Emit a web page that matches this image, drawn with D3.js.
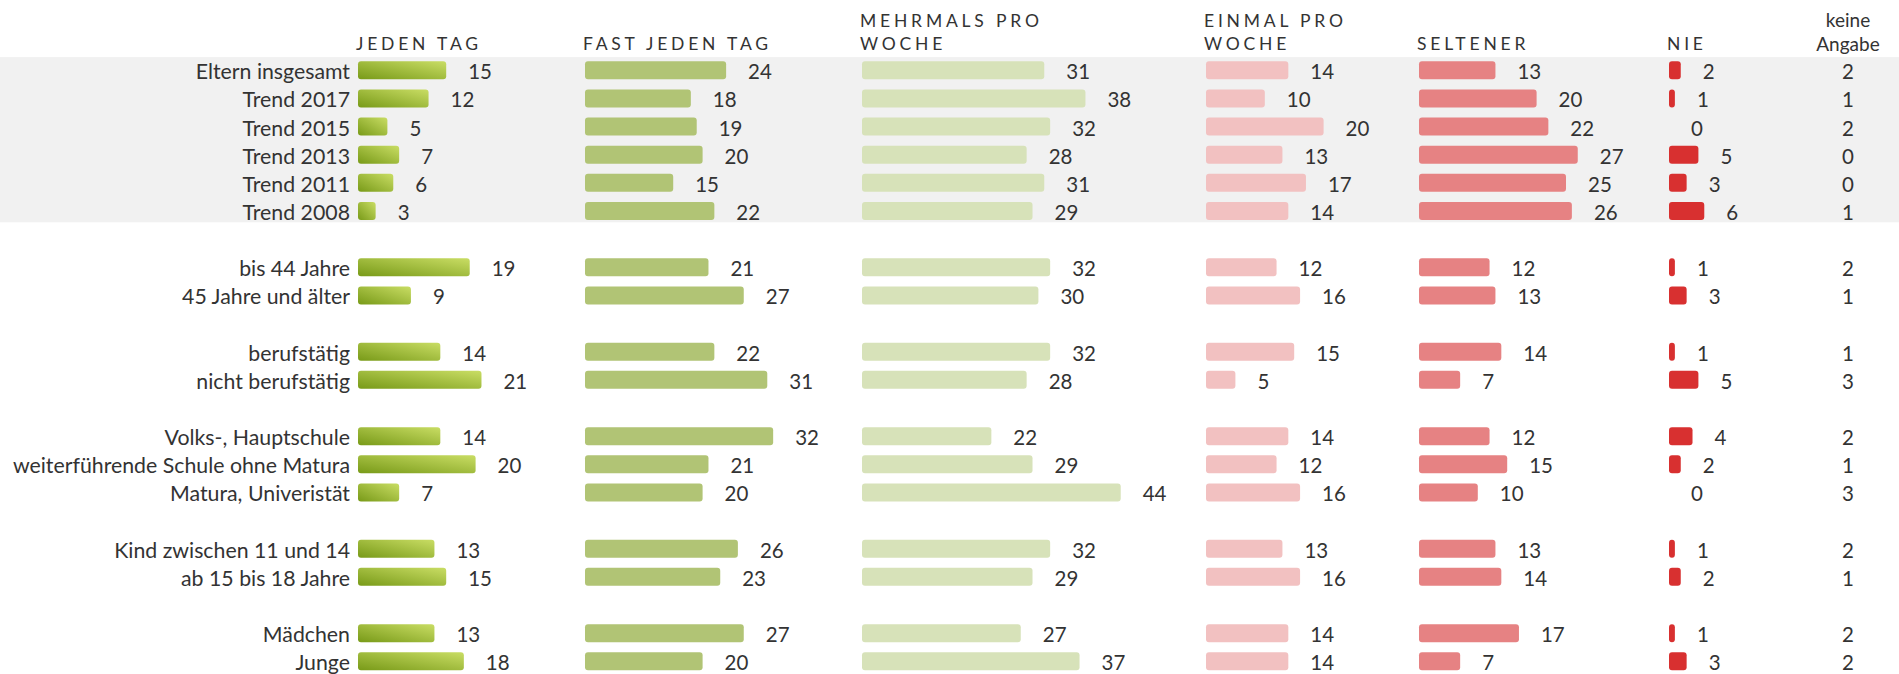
<!DOCTYPE html>
<html>
<head>
<meta charset="utf-8">
<script src="https://cdn.jsdelivr.net/npm/d3@7"></script>
<style>
  body { margin: 0; background: #fff; }
  text { font-family: Lato, "Open Sans", sans-serif; fill: #333; }
</style>
</head>
<body>
<div id="chart"></div>
<script>
var svgWidth = 1899;
var svgHeight = 674;

// row labels + the group each row belongs to (a blank row sits between groups)
var categories = ["Eltern insgesamt", "Trend 2017", "Trend 2015", "Trend 2013", "Trend 2011", "Trend 2008",
  "bis 44 Jahre", "45 Jahre und älter",
  "berufstätig", "nicht berufstätig",
  "Volks-, Hauptschule", "weiterführende Schule ohne Matura", "Matura, Univeristät",
  "Kind zwischen 11 und 14", "ab 15 bis 18 Jahre",
  "Mädchen", "Junge"];
var groups = [0, 0, 0, 0, 0, 0, 1, 1, 2, 2, 3, 3, 3, 4, 4, 5, 5];

var jedenTag     = [15, 12, 5, 7, 6, 3, 19, 9, 14, 21, 14, 20, 7, 13, 15, 13, 18];
var fastJedenTag = [24, 18, 19, 20, 15, 22, 21, 27, 22, 31, 32, 21, 20, 26, 23, 27, 20];
var mehrmals     = [31, 38, 32, 28, 31, 29, 32, 30, 32, 28, 22, 29, 44, 32, 29, 27, 37];
var einmal       = [14, 10, 20, 13, 17, 14, 12, 16, 15, 5, 14, 12, 16, 13, 16, 14, 14];
var seltener     = [13, 20, 22, 27, 25, 26, 12, 13, 14, 7, 12, 15, 10, 13, 14, 17, 7];
var nie          = [2, 1, 0, 5, 3, 6, 1, 3, 1, 5, 4, 2, 0, 1, 2, 1, 3];
var keineAngabe  = [2, 1, 2, 0, 0, 1, 2, 1, 1, 3, 2, 1, 3, 2, 1, 2, 2];

var headers = [["JEDEN TAG"], ["FAST JEDEN TAG"], ["MEHRMALS PRO", "WOCHE"], ["EINMAL PRO", "WOCHE"], ["SELTENER"], ["NIE"]];
var keineHeader = ["keine", "Angabe"];

var series = [jedenTag, fastJedenTag, mehrmals, einmal, seltener, nie];
var colX = [358, 585, 862, 1206, 1419, 1669];
var colFill = ["url(#gradJeden)", "#b1c475", "#d7e2b9", "#f2c1c1", "#e68283", "#d83030"];
var keineX = 1848;

var svg = d3.select("#chart")
  .append("svg")
  .attr("width", svgWidth)
  .attr("height", svgHeight);

var grad = svg.append("defs").append("linearGradient")
  .attr("id", "gradJeden")
  .attr("x1", 0).attr("y1", 1).attr("x2", 1).attr("y2", 0);
grad.append("stop").attr("offset", "0%").attr("stop-color", "#789a18");
grad.append("stop").attr("offset", "100%").attr("stop-color", "#c9dd64");

// scales
var xScale = d3.scaleLinear().domain([0, 10]).range([0, 58.8]);
var yScale = d3.scaleLinear().domain([0, 21]).range([70.3, 661.3]);
var slot = (d, i) => i + groups[i];
var barH = 18;

// grey band behind the trend rows
svg.append("rect")
  .attr("x", 0)
  .attr("y", yScale(-0.47))
  .attr("width", svgWidth)
  .attr("height", yScale(5.4) - yScale(-0.47))
  .attr("fill", "#f1f1f1");

// column headers
headers.forEach(function(lines, c) {
  lines.forEach(function(line, k) {
    svg.append("text")
      .attr("x", colX[c] - 2)
      .attr("y", 50 - (lines.length - 1 - k) * 23.5)
      .attr("font-size", "17.5px")
      .attr("letter-spacing", "3.8px")
      .text(line);
  });
});
keineHeader.forEach(function(line, k) {
  svg.append("text")
    .attr("x", keineX)
    .attr("y", 27.3 + k * 23.5)
    .attr("text-anchor", "middle")
    .attr("font-size", "19px")
    .text(line);
});

// row labels
svg.selectAll(".rowLabel")
  .data(categories)
  .enter()
  .append("text")
  .attr("class", "rowLabel")
  .attr("x", 350)
  .attr("y", (d, i) => yScale(slot(d, i)) + 9)
  .attr("text-anchor", "end")
  .attr("font-size", "21.3px")
  .text(d => d);

// bars + values for each column
series.forEach(function(values, c) {
  var g = svg.append("g").attr("transform", `translate(${colX[c]}, 0)`);

  g.selectAll("rect")
    .data(values)
    .enter()
    .append("rect")
    .attr("x", 0)
    .attr("y", (d, i) => yScale(slot(d, i)) - barH / 2)
    .attr("width", d => xScale(d))
    .attr("height", barH)
    .attr("rx", 3)
    .attr("fill", colFill[c]);

  g.selectAll("text")
    .data(values)
    .enter()
    .append("text")
    .attr("x", d => xScale(d) + 22)
    .attr("y", (d, i) => yScale(slot(d, i)) + 9)
    .attr("font-size", "20.5px")
    .text(d => d);
});

// keine Angabe: numbers only
svg.selectAll(".keine")
  .data(keineAngabe)
  .enter()
  .append("text")
  .attr("class", "keine")
  .attr("x", keineX)
  .attr("y", (d, i) => yScale(slot(d, i)) + 9)
  .attr("text-anchor", "middle")
  .attr("font-size", "20.5px")
  .text(d => d);
</script>
</body>
</html>
